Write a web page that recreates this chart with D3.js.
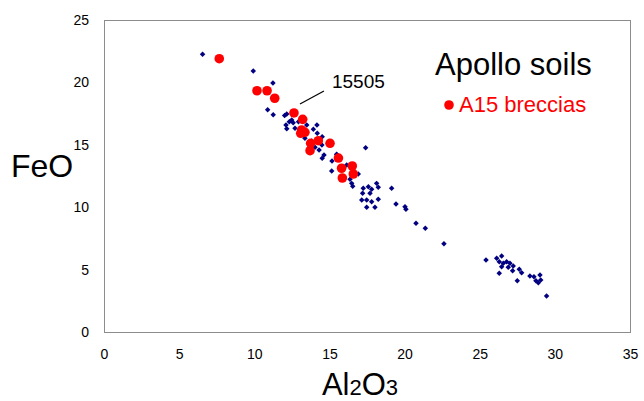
<!DOCTYPE html>
<html>
<head>
<meta charset="utf-8">
<script src="https://cdn.jsdelivr.net/npm/d3@7"></script>
<style>
  body { margin: 0; background: #fff; }
  svg { display: block; font-family: Arial, "Liberation Sans", sans-serif; }
</style>
</head>
<body>
<svg width="644" height="401"></svg>
<script>
(function () {
    "use strict";

    // Apollo soils, Al2O3 vs FeO (wt%)
    var soilAl2O3 = [6.56, 9.93, 11.24, 10.89, 11.26, 12.16, 12.49, 12.33, 12.59, 13.49,
        12.11, 12.16, 12.71, 13.93, 14.19, 14.52, 13.37, 14.50, 14.31, 14.64,
        14.52, 15.48, 15.17, 16.15, 15.15, 16.92, 16.37, 16.48, 16.55, 17.41,
        17.25, 17.59, 17.81, 18.14, 18.25, 17.21, 17.70, 17.15, 17.48, 17.81,
        18.25, 17.48, 18.03, 19.14, 19.43, 20.03, 20.09, 20.76, 21.38, 22.62,
        25.42, 26.13, 26.46, 26.30, 26.57, 26.79, 27.01, 27.23, 26.46, 26.90,
        26.30, 27.19, 27.63, 27.79, 27.50, 28.34, 28.61, 29.01, 29.06, 28.74,
        28.90, 29.45, 12.94, 13.82, 14.04, 15.50, 14.17, 12.02];
    var soilFeO = [22.25, 20.91, 19.95, 17.81, 17.41, 17.47, 16.99, 16.85, 16.77, 16.59,
        16.59, 16.29, 16.32, 16.24, 15.92, 15.65, 15.52, 14.98, 14.58, 14.18,
        13.92, 14.24, 13.70, 13.38, 12.90, 12.66, 12.24, 11.91, 11.67, 14.77,
        11.51, 11.64, 11.43, 11.91, 11.59, 11.11, 11.11, 10.58, 10.58, 10.44,
        10.63, 9.99, 9.99, 11.51, 10.26, 10.04, 9.83, 8.71, 8.31, 7.08,
        5.77, 5.91, 6.09, 5.63, 5.50, 5.63, 5.50, 5.29, 5.23, 5.18,
        4.70, 4.91, 5.02, 4.75, 4.11, 4.49, 4.43, 4.57, 4.17, 4.11,
        3.95, 2.88, 16.85, 15.31, 14.80, 14.18, 16.59, 17.34];

    // Apollo 15 breccias
    var brecciaAl2O3 = [7.67, 10.18, 10.85, 11.36, 12.64, 13.22, 13.15, 13.37, 13.09, 13.75,
        14.26, 15.04, 13.71, 15.60, 15.81, 16.52, 16.59, 15.86];
    var brecciaFeO = [21.90, 19.33, 19.33, 18.73, 17.55, 17.04, 16.19, 16.00, 15.92, 15.12,
        15.33, 15.12, 14.53, 13.94, 13.12, 13.30, 12.66, 12.34];

    var xTicks = [0, 5, 10, 15, 20, 25, 30, 35];
    var yTicks = [0, 5, 10, 15, 20, 25];

    // sample 15505 is labelled with a leader line
    var labelSample = { name: "15505", al: 12.64, fe: 17.55 };

    var svg = d3.select("svg");
    var margin = { top: 20, right: 14, bottom: 69, left: 104 };
    var width = 644 - margin.left - margin.right;
    var height = 401 - margin.top - margin.bottom;

    var g = svg.append("g").attr("transform", "translate(" + margin.left + "," + margin.top + ")");

    var x = d3.scaleLinear().domain([0, 35]).range([0, width]);
    var y = d3.scaleLinear().domain([0, 25]).range([height, 0]);

    // Plot frame
    g.append("rect")
        .attr("x", 0.5)
        .attr("y", 0.5)
        .attr("width", width)
        .attr("height", height)
        .attr("fill", "none")
        .attr("stroke", "#8c8c8c")
        .attr("stroke-width", 1);

    // Axes (labels only, no tick marks)
    var xAxis = g.append("g")
        .attr("transform", "translate(0," + height + ")")
        .call(d3.axisBottom(x).tickValues(xTicks).tickSize(0).tickPadding(17));
    var yAxis = g.append("g")
        .call(d3.axisLeft(y).tickValues(yTicks).tickSize(0).tickPadding(15));
    [xAxis, yAxis].forEach(function (ax) {
        ax.select(".domain").remove();
        ax.selectAll("text")
            .attr("font-family", "Arial, 'Liberation Sans', sans-serif")
            .attr("font-size", 14)
            .attr("fill", "#000");
    });

    // Soils: navy diamonds
    var diamond = d3.symbol().type(d3.symbolSquare).size(15);
    g.append("g").selectAll("path")
        .data(d3.range(soilAl2O3.length))
        .enter()
        .append("path")
        .attr("d", diamond)
        .attr("transform", function (i) {
            return "translate(" + x(soilAl2O3[i]) + "," + y(soilFeO[i]) + ") rotate(45)";
        })
        .attr("fill", "#000080");

    // Breccias: red circles
    g.append("g").selectAll("circle")
        .data(d3.range(brecciaAl2O3.length))
        .enter()
        .append("circle")
        .attr("cx", function (i) { return x(brecciaAl2O3[i]); })
        .attr("cy", function (i) { return y(brecciaFeO[i]); })
        .attr("r", 4.8)
        .attr("fill", "#ff0000");

    // 15505 leader line + label
    var lx = x(labelSample.al), ly = y(labelSample.fe);
    g.append("line")
        .attr("x1", lx + 6)
        .attr("y1", ly - 9)
        .attr("x2", lx + 30)
        .attr("y2", ly - 22)
        .attr("stroke", "#000")
        .attr("stroke-width", 1.2);
    g.append("text")
        .attr("x", lx + 38)
        .attr("y", ly - 25)
        .attr("font-size", 19)
        .text(labelSample.name);

    // Axis titles
    svg.append("text")
        .attr("x", 11)
        .attr("y", 177)
        .attr("font-size", 32)
        .text("FeO");

    var xt = svg.append("text")
        .attr("x", 360)
        .attr("y", 395)
        .attr("text-anchor", "middle")
        .attr("font-size", 31);
    xt.append("tspan").text("Al");
    xt.append("tspan").attr("font-size", 22).text("2");
    xt.append("tspan").text("O");
    xt.append("tspan").attr("font-size", 22).text("3");

    // Legend
    svg.append("text")
        .attr("x", 435)
        .attr("y", 75)
        .attr("font-size", 31)
        .text("Apollo soils");
    svg.append("circle")
        .attr("cx", 449)
        .attr("cy", 105)
        .attr("r", 4.8)
        .attr("fill", "#ff0000");
    svg.append("text")
        .attr("x", 459)
        .attr("y", 112)
        .attr("font-size", 22)
        .attr("fill", "#ff0000")
        .text("A15 breccias");
})();
</script>
</body>
</html>
